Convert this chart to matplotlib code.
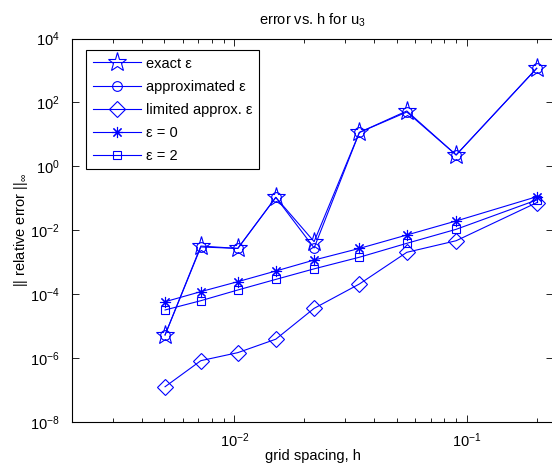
import matplotlib
matplotlib.use("Agg")
import matplotlib.pyplot as plt
import numpy as np

plt.rcParams['font.family'] = ['Liberation Sans', 'DejaVu Sans']
plt.rcParams['mathtext.fontset'] = 'custom'
plt.rcParams['mathtext.rm'] = 'Liberation Sans'
plt.rcParams['mathtext.it'] = 'Liberation Sans'
plt.rcParams['mathtext.default'] = 'regular'

# grid spacings
h = [0.00503, 0.00717, 0.01034, 0.01507, 0.02203, 0.0345, 0.0552, 0.0900, 0.200]

err_exact = [5.3e-6, 3.2e-3, 2.7e-3, 0.107, 4.4e-3, 11.5, 54.0, 2.27, 1170.0]
err_approx = [5.3e-6, 3.0e-3, 2.7e-3, 0.107, 2.8e-3, 11.5, 50.0, 2.27, 1170.0]
err_limited = [1.27e-7, 8.3e-7, 1.48e-6, 3.9e-6, 3.6e-5, 2.08e-4, 2.04e-3, 4.7e-3, 0.073]
err_eps0 = [5.8e-5, 1.2e-4, 2.46e-4, 5.3e-4, 1.17e-3, 2.7e-3, 7.1e-3, 0.0195, 0.112]
err_eps2 = [3.2e-5, 6.25e-5, 1.35e-4, 2.9e-4, 6.2e-4, 1.43e-3, 3.9e-3, 0.0107, 0.0885]

labels = ['exact ε', 'approximated ε', 'limited approx. ε', 'ε = 0', 'ε = 2']

blue = '#0000ff'
fig = plt.figure(figsize=(5.52, 4.67), dpi=100)
ax = fig.add_axes([72/552, 45/467, 481/552, 383.5/467])

lw = 0.8
ax.loglog(h, err_exact, color=blue, lw=lw, marker='*', ms=14, mfc='none', mew=0.8, label=labels[0])
ax.loglog(h, err_approx, color=blue, lw=lw, marker='o', ms=7, mfc='none', mew=0.8, label=labels[1])
ax.loglog(h, err_limited, color=blue, lw=lw, marker='D', ms=8, mfc='none', mew=0.8, label=labels[2])
ax.loglog(h, err_eps0, color=blue, lw=lw, marker=(8, 2, 0), ms=8, mew=0.8, label=labels[3])
ax.loglog(h, err_eps2, color=blue, lw=lw, marker='s', ms=6, mfc='none', mew=0.8, label=labels[4])

ax.set_xlim(0.002, 0.235)
ax.set_ylim(1e-8, 1e4)
ax.set_yticks([1e-8, 1e-6, 1e-4, 1e-2, 1e0, 1e2, 1e4])
ax.yaxis.set_minor_locator(matplotlib.ticker.NullLocator())

ax.tick_params(which='both', direction='in', top=True, right=True, labelsize=10.5)
ax.tick_params(axis='x', which='both', pad=7)
ax.tick_params(axis='y', which='both', pad=9)
ax.tick_params(which='major', length=5, width=0.6)
ax.tick_params(which='minor', length=3, width=0.6)
for s in ax.spines.values():
    s.set_linewidth(0.8)

ax.set_title('error vs. h for u$_3$', fontsize=10.5, pad=10)
ax.set_xlabel('grid spacing, h', fontsize=10.5, labelpad=-1)
ax.set_ylabel('|| relative error ||$_\\infty$', fontsize=10.5, labelpad=0)

leg = ax.legend(loc='upper left', bbox_to_anchor=(0.029, 0.970), borderaxespad=0,
                fontsize=10.5, fancybox=False, edgecolor='black', framealpha=1,
                handlelength=3.3, borderpad=0.45, labelspacing=0.62, handletextpad=0.35)
leg.get_frame().set_linewidth(0.8)

fig.savefig('out.png', dpi=100)
